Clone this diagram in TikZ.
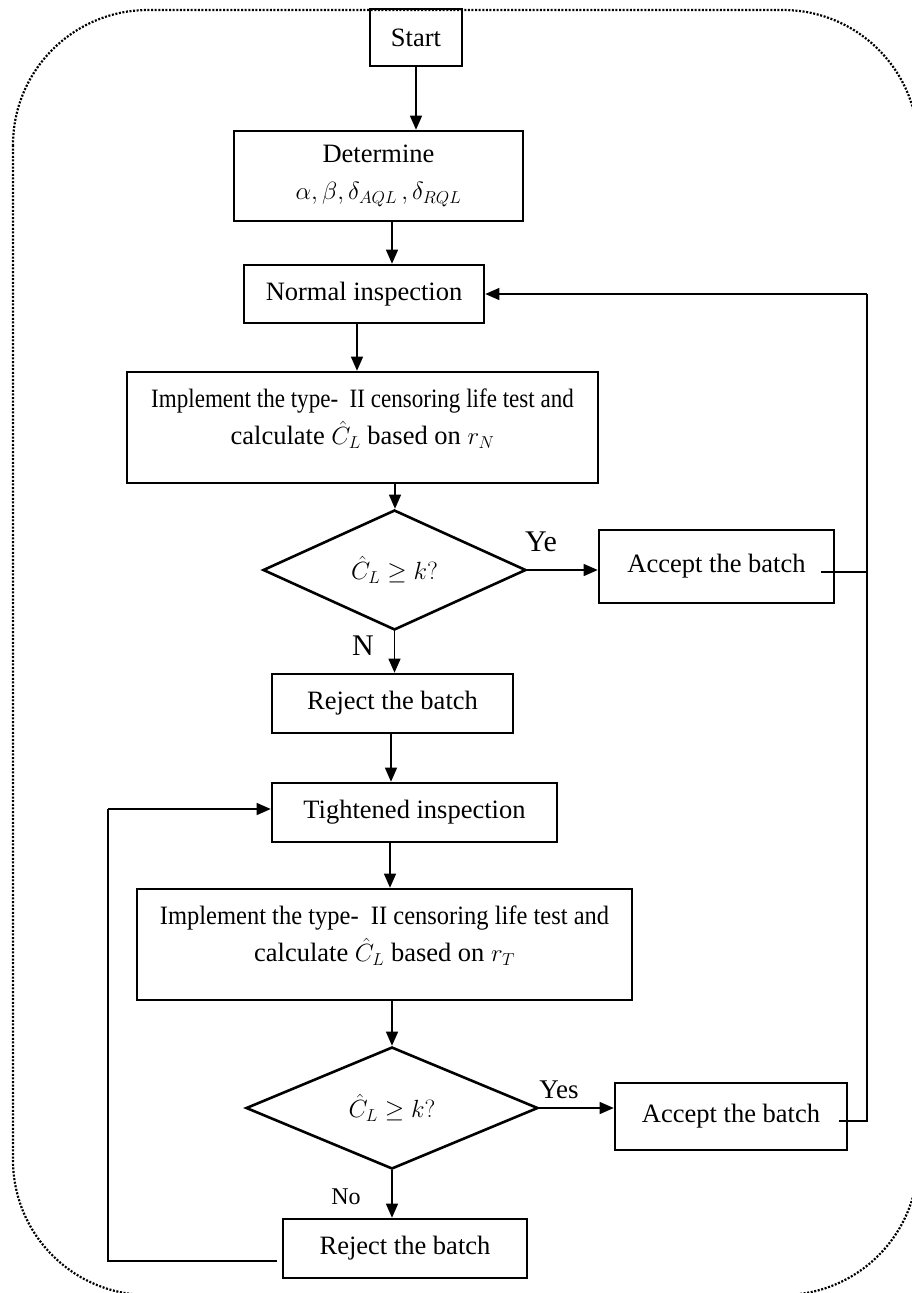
\documentclass[tikz,border=0pt]{standalone}
\usepackage{fontspec}
\setmainfont{Liberation Serif}
\usetikzlibrary{shapes.geometric,arrows.meta}
\tikzset{
  box/.style={draw, line width=2.6pt, inner sep=0pt, align=center,
    font=\fontsize{26.5}{37}\selectfont},
  decision/.style={draw, diamond, line width=2.6pt, inner sep=0pt, aspect=2.2,
    font=\fontsize{26.5}{37}\selectfont},
  conn/.style={line width=1.3pt},
  arr/.style={conn, -{Triangle[length=14pt,width=12pt]}},
  lbl/.style={inner sep=0pt},
  frame/.style={line width=2.2pt, dash pattern=on 2pt off 1.6pt, rounded corners=135pt}
}
\begin{document}
\begin{tikzpicture}[x=1pt,y=-1pt]
\useasboundingbox (0,0) rectangle (912,1293);
\draw[frame] (13,10) rectangle (918,1295);

\node[box, minimum width=92, minimum height=57] (start) at (416,37.5) {Start};
\node[box, minimum width=289, minimum height=90] (det) at (378.5,176) {Determine\\$\alpha,\beta,\delta_{AQL}\,,\delta_{RQL}$};
\node[box, minimum width=240, minimum height=58] (norm) at (364,294) {Normal inspection};
\node[box, minimum width=471, minimum height=111] (imp1) at (362.5,427.5) {\scalebox{0.87}[1]{Implement the type-\ \ II censoring life test and}\\calculate $\hat{C}_L$ based on $r_N$\\[-16pt]\mbox{}};
\node[decision, minimum width=263, minimum height=120] (dia1) at (394.5,570) {$\hat{C}_L\geq k?$};
\node[box, minimum width=235, minimum height=73] (acc1) at (716.5,566.5) {Accept the batch};
\node[box, minimum width=241, minimum height=59] (rej1) at (392.5,703.5) {Reject the batch};
\node[box, minimum width=285, minimum height=59] (tight) at (414.5,812.5) {Tightened inspection};
\node[box, minimum width=495, minimum height=111] (imp2) at (384.5,944.5) {\scalebox{0.925}[1]{Implement the type-\ \ II censoring life test and}\\calculate $\hat{C}_L$ based on $r_T$\\[-16pt]\mbox{}};
\node[decision, minimum width=292, minimum height=122] (dia2) at (392,1108) {$\hat{C}_L\geq k?$};
\node[box, minimum width=232, minimum height=67] (acc2) at (731,1116.5) {Accept the batch};
\node[box, minimum width=244, minimum height=59] (rej2) at (405,1248.5) {Reject the batch};

\node[lbl, font=\fontsize{30}{30}\selectfont] (ye) at (541,542) {Ye};
\node[lbl, font=\fontsize{30}{30}\selectfont] (n) at (363,646) {N};
\node[lbl, font=\fontsize{27}{27}\selectfont] (yes) at (559,1090) {Yes};
\node[lbl, font=\fontsize{24}{24}\selectfont] (no) at (346,1197) {No};

\coordinate (r1) at (867,572);
\coordinate (r2) at (867,1121);
\coordinate (rt) at (867,294);
\coordinate (lb) at (108,1261);
\coordinate (lt) at (108,809);

\draw[arr] (start.south) -- (start.south |- det.north);
\draw[arr] ([xshift=13.5pt]det.south) -- ([xshift=13.5pt]det.south |- norm.north);
\draw[arr] ([xshift=-7pt]norm.south) -- ([xshift=-7pt]norm.south |- imp1.north);
\draw[arr] ([xshift=32.5pt]imp1.south) -- ([xshift=32.5pt]imp1.south |- dia1.north);
\draw[arr] (dia1.east) -- (dia1.east -| acc1.west);
\draw[arr] (dia1.south) -- (dia1.south |- rej1.north);
\draw[arr] ([xshift=-1.5pt]rej1.south) -- ([xshift=-1.5pt]rej1.south |- tight.north);
\draw[arr] ([xshift=-24.5pt]tight.south) -- ([xshift=-24.5pt]tight.south |- imp2.north);
\draw[arr] ([xshift=7.5pt]imp2.south) -- ([xshift=7.5pt]imp2.south |- dia2.north);
\draw[arr] (dia2.east) -- (dia2.east -| acc2.west);
\draw[arr] (dia2.south) -- (dia2.south |- rej2.north);

\draw[conn] ([xshift=-14pt]acc1.east |- r1) -- (r1);
\draw[conn] ([xshift=-9pt]acc2.east |- r2) -- (r2) -- (rt);
\draw[arr] (rt) -- (rt -| norm.east);
\draw[conn] ([xshift=-5pt]rej2.west |- lb) -- (lb) -- (lt);
\draw[arr] (lt) -- (lt -| tight.west);
\end{tikzpicture}
\end{document}
